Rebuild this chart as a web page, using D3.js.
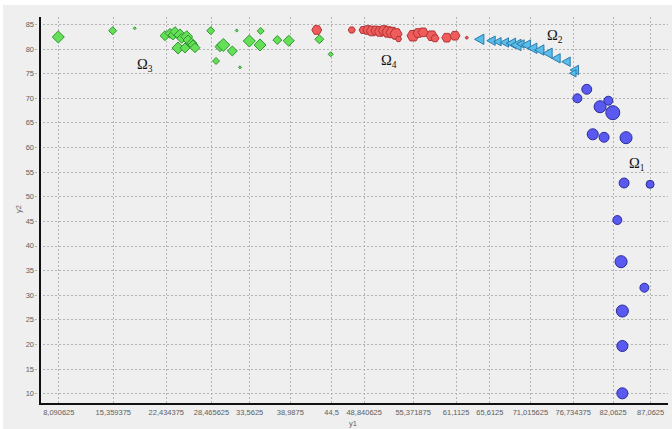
<!DOCTYPE html>
<html>
<head>
<meta charset="utf-8">
<script src="https://cdn.jsdelivr.net/npm/d3@7"></script>
<style>
  html, body { margin: 0; padding: 0; background: #ffffff; }
  svg { display: block; }
</style>
</head>
<body>
<div id="chart"></div>
<script>
// Tick values on the y1 axis (as printed by the original software)
const xTickValues = [8.090625, 15.359375, 22.434375, 28.465625, 33.5625, 38.9875, 44.5,
  48.840625, 55.371875, 61.1125, 65.6125, 71.015625, 76.734375, 82.0625, 87.0625];
const yTickValues = [10, 15, 20, 25, 30, 35, 40, 45, 50, 55, 60, 65, 70, 75, 80, 85];

// Ω3 — green diamonds
const omega3X = [8.09, 15.35, 18.29, 22.33, 23.0, 23.4, 23.66, 24.33, 24.56, 25.23, 25.4, 25.9, 26.07, 26.33,
  24.07, 25.0, 28.43, 29.14, 29.67, 30.11, 31.31, 31.9, 32.34, 33.58, 35.01, 35.1, 37.32, 38.84, 42.92, 44.44];
const omega3Y = [82.36, 83.64, 84.13, 82.62, 83.1, 82.77, 83.44, 82.77, 82.1, 82.42, 81.75, 81.14, 80.74, 80.19,
  80.13, 80.13, 83.64, 77.49, 80.39, 80.74, 79.52, 83.68, 76.2, 81.55, 80.74, 83.58, 81.75, 81.6, 81.9, 78.85];
const omega3W = [8.6, 5.7, 2.1, 7.1, 7.1, 7.1, 7.1, 8.6, 7.1, 8.6, 7.1, 7.1, 7.1, 7.1,
  8.6, 7.1, 5.7, 5.0, 7.1, 9.3, 7.1, 2.1, 2.1, 8.6, 8.6, 5.0, 6.4, 7.9, 6.4, 3.6];

// Ω4 — red hexagons
const omega4X = [42.58, 47.25, 48.76, 49.4, 49.95, 50.48, 51.02, 51.55, 52.09, 52.62, 53.16, 53.49,
  55.43, 56.1, 56.77, 57.92, 58.36, 59.93, 61.03, 62.6];
const omega4Y = [83.78, 83.78, 83.78, 83.78, 83.58, 83.68, 83.48, 83.68, 83.38, 83.27, 82.97, 81.95,
  82.62, 83.17, 83.31, 82.62, 82.1, 82.22, 82.62, 82.22];
const omega4W = [7.1, 5.0, 5.7, 7.1, 7.9, 7.1, 7.9, 7.9, 8.6, 8.6, 8.6, 4.3,
  8.6, 7.1, 7.1, 7.9, 5.7, 7.1, 7.1, 2.1];

// Ω2 — cyan triangles
const omega2X = [64.37, 65.93, 66.77, 67.71, 68.6, 69.27, 69.84, 70.6, 71.44, 72.38, 73.48, 74.6, 75.94, 77.05, 76.82];
const omega2Y = [81.89, 81.61, 81.41, 81.24, 81.08, 80.74, 80.94, 80.74, 80.07, 79.72, 79.05, 78.03, 77.34, 75.66, 74.99];
const omega2W = [7.1, 6.4, 5.7, 6.4, 7.1, 7.9, 5.7, 7.1, 7.1, 7.1, 7.1, 6.4, 6.4, 6.4, 5.0];

// Ω1 — blue circles
const omega1X = [78.61, 77.36, 80.39, 81.49, 82.08, 79.41, 80.92, 83.85, 83.59, 87.06, 82.69, 83.19, 86.3, 83.36, 83.36, 83.36];
const omega1Y = [71.74, 69.91, 68.2, 69.42, 66.99, 62.6, 61.99, 61.91, 52.71, 52.44, 45.19, 36.73, 31.45, 26.71, 19.61, 10.0];
const omega1W = [7.1, 6.4, 8.6, 6.4, 10, 7.9, 7.1, 8.6, 7.1, 5.7, 6.4, 8.6, 6.4, 8.6, 7.9, 7.9];

const W = 672, H = 429;
const margin = { left: 40, right: 4, top: 17, bottom: 25 };

const svg = d3.select("#chart").append("svg")
  .attr("width", W).attr("height", H);

// panel background
svg.append("rect")
  .attr("x", 3).attr("y", 5)
  .attr("width", W - 3).attr("height", H - 5)
  .attr("fill", "#efefef");

const x = d3.scaleLinear().domain([5.65, 89.45]).range([margin.left, W - margin.right]);
const y = d3.scaleLinear().domain([7.83, 86.42]).range([H - margin.bottom, margin.top]);
const r = d3.scaleLinear().domain([0, 10]).range([0, 7]);

const fmt = d => String(d).replace(".", ",");
const labelFont = "'Liberation Sans', Arial, sans-serif";

// dotted grid
const grid = svg.append("g").attr("stroke", "#b4b4b4").attr("stroke-width", 1)
  .attr("stroke-dasharray", "2,2").attr("shape-rendering", "crispEdges");
grid.selectAll("line.v").data(xTickValues).join("line")
  .attr("class", "v")
  .attr("x1", d => Math.round(x(d)) + 0.5).attr("x2", d => Math.round(x(d)) + 0.5)
  .attr("y1", margin.top).attr("y2", H - margin.bottom);
grid.selectAll("line.h").data(yTickValues).join("line")
  .attr("class", "h")
  .attr("x1", margin.left - 5).attr("x2", W - margin.right)
  .attr("y1", d => Math.round(y(d)) + 0.5).attr("y2", d => Math.round(y(d)) + 0.5);

// axes
const xAxis = d3.axisBottom(x).tickValues(xTickValues).tickFormat(fmt).tickSize(0).tickPadding(6);
const yAxis = d3.axisLeft(y).tickValues(yTickValues).tickFormat(d3.format("d")).tickSize(0).tickPadding(6);

const gx = svg.append("g").attr("transform", `translate(0,${H - margin.bottom})`).call(xAxis);
const gy = svg.append("g").attr("transform", `translate(${margin.left},0)`).call(yAxis);
[gx, gy].forEach(g => {
  g.select(".domain").remove();
  g.selectAll("text").attr("fill", "#606060").style("font-family", labelFont).style("font-size", "7.5px");
});

// hexagon, left-pointing triangle, diamond and circle symbols
const hexagon = {
  draw(ctx, size) {
    const rr = Math.sqrt(size);
    for (let i = 0; i < 6; i++) {
      const a = Math.PI / 3 * i;
      const px = rr * Math.cos(a), py = rr * Math.sin(a);
      if (i === 0) ctx.moveTo(px, py); else ctx.lineTo(px, py);
    }
    ctx.closePath();
  }
};
const triLeft = {
  draw(ctx, size) {
    const rr = Math.sqrt(size) * 1.1;
    ctx.moveTo(-rr, 0);
    ctx.lineTo(rr * 0.7, -rr * 0.95);
    ctx.lineTo(rr * 0.7, rr * 0.95);
    ctx.closePath();
  }
};
const diamond = {
  draw(ctx, size) {
    const rr = Math.sqrt(size);
    ctx.moveTo(0, -rr); ctx.lineTo(rr, 0); ctx.lineTo(0, rr); ctx.lineTo(-rr, 0); ctx.closePath();
  }
};
const circle = {
  draw(ctx, size) {
    const rr = Math.sqrt(size);
    ctx.moveTo(rr, 0); ctx.arc(0, 0, rr, 0, 2 * Math.PI);
  }
};

const series = [
  { xs: omega3X, ys: omega3Y, ws: omega3W, type: diamond, fill: "#66df58", stroke: "#2f962f" },
  { xs: omega4X, ys: omega4Y, ws: omega4W, type: hexagon, fill: "#f05c5c", stroke: "#b23434" },
  { xs: omega2X, ys: omega2Y, ws: omega2W, type: triLeft, fill: "#5bbde9", stroke: "#2b7bab" },
  { xs: omega1X, ys: omega1Y, ws: omega1W, type: circle, fill: "#5a5af0", stroke: "#2b2b98" }
];

series.forEach(s => {
  const pts = s.xs.map((v, i) => ({ x: v, y: s.ys[i], w: s.ws[i] }));
  svg.append("g").selectAll("path").data(pts).join("path")
    .attr("transform", d => `translate(${x(d.x)},${y(d.y)})`)
    .attr("d", d => d3.symbol().type(s.type).size(r(d.w) * r(d.w))())
    .attr("fill", s.fill)
    .attr("stroke", s.stroke)
    .attr("stroke-width", 1);
});

// axis lines
svg.append("line").attr("x1", margin.left).attr("x2", margin.left)
  .attr("y1", margin.top).attr("y2", H - margin.bottom + 1)
  .attr("stroke", "#111").attr("stroke-width", 2);
svg.append("line").attr("x1", margin.left - 1).attr("x2", W - margin.right)
  .attr("y1", H - margin.bottom).attr("y2", H - margin.bottom)
  .attr("stroke", "#111").attr("stroke-width", 2);

// axis titles
svg.append("text").attr("x", 353).attr("y", 426).attr("text-anchor", "middle")
  .attr("fill", "#606060").style("font-family", labelFont).style("font-size", "7.5px").text("y1");
svg.append("text").attr("transform", "translate(21,209) rotate(-90)").attr("text-anchor", "middle")
  .attr("fill", "#606060").style("font-family", labelFont).style("font-size", "7.5px").text("y2");

// region labels
const regions = [
  { name: "Ω", sub: "3", x: 137, y: 68.5 },
  { name: "Ω", sub: "4", x: 381, y: 65 },
  { name: "Ω", sub: "2", x: 547, y: 40 },
  { name: "Ω", sub: "1", x: 629, y: 168 }
];
regions.forEach(d => {
  const t = svg.append("text").attr("x", d.x).attr("y", d.y)
    .attr("fill", "#111").style("font-family", "'Liberation Serif', 'Times New Roman', serif")
    .style("font-size", "14.5px");
  t.append("tspan").text(d.name);
  t.append("tspan").attr("dy", 3).style("font-size", "9.5px").text(d.sub);
});
</script>
</body>
</html>
